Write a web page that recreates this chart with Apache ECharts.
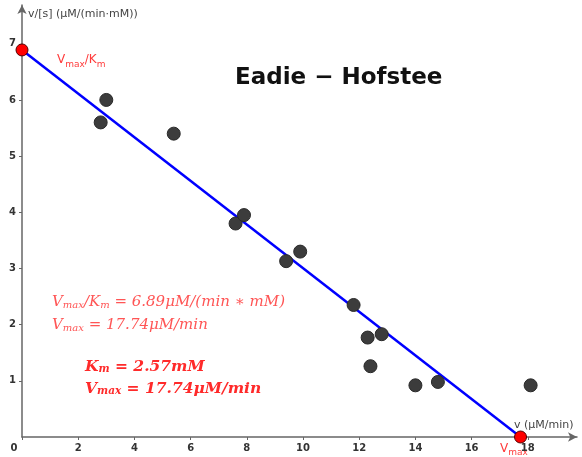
<!DOCTYPE html>
<html>
<head>
<meta charset="utf-8">
<script src="https://cdn.jsdelivr.net/npm/echarts@6/dist/echarts.min.js"></script>
<style>
  html, body { margin: 0; padding: 0; background: #fff; }
  #main { width: 582px; height: 457px; }
</style>
</head>
<body>
<div id="main"></div>
<script>
// measured points: x = v, y = v/[s]
var vValues = [2.8, 3.0, 5.4, 7.6, 7.9, 9.4, 9.9, 11.8, 12.3, 12.4, 12.8, 14.0, 14.8, 18.1];
var vOverS = [5.6, 6.0, 5.4, 3.8, 3.95, 3.13, 3.3, 2.35, 1.77, 1.26, 1.83, 0.92, 0.98, 0.92];

// fitted intercepts
var vmaxOverKm = 6.89;
var vmax = 17.74;

var xTicks = [0, 2, 4, 6, 8, 10, 12, 14, 16, 18];
var yTicks = [1, 2, 3, 4, 5, 6, 7];

var chart = echarts.init(document.getElementById('main'));

var points = vValues.map(function (v, i) { return [v, vOverS[i]]; });
var fitLine = [[0, vmaxOverKm], [vmax, 0]];

var red = '#ff3b3b';
var mathFont = '"DejaVu Serif", "Liberation Serif", serif';

var option = {
  backgroundColor: '#fff',
  animation: false,
  grid: { left: 22, right: 5, top: 5, bottom: 20 },
  xAxis: {
    type: 'value',
    min: 0,
    max: 19.75,
    interval: 2,
    axisLine: { lineStyle: { color: '#666', width: 1.5 }, symbol: ['none', 'arrow'], symbolSize: [7, 9] },
    axisTick: { show: true, length: 3, lineStyle: { color: '#666' } },
    splitLine: { show: false },
    axisLabel: {
      showMaxLabel: false,
      color: '#333',
      fontSize: 10,
      fontWeight: 'bold',
      fontFamily: '"DejaVu Sans", sans-serif',
      margin: 6,
      formatter: function (val) {
        if (xTicks.indexOf(val) < 0) return '';
        return val === 0 ? '{o|0}' : String(val);
      },
      rich: { o: { padding: [0, 16, 0, 0], fontSize: 10, fontWeight: 'bold', color: '#333' } }
    }
  },
  yAxis: {
    type: 'value',
    min: 0,
    max: 7.69,
    interval: 1,
    axisLine: { lineStyle: { color: '#666', width: 1.5 }, symbol: ['none', 'arrow'], symbolSize: [7, 9] },
    axisTick: { show: true, length: 3, lineStyle: { color: '#666' } },
    splitLine: { show: false },
    axisLabel: {
      showMinLabel: false,
      showMaxLabel: false,
      color: '#333',
      fontSize: 10,
      fontWeight: 'bold',
      fontFamily: '"DejaVu Sans", sans-serif',
      margin: 6,
      formatter: function (val) {
        return yTicks.indexOf(val) < 0 ? '' : String(val);
      }
    }
  },
  series: [
    {
      type: 'line',
      data: fitLine,
      symbol: 'none',
      lineStyle: { color: '#0000ff', width: 2.5 },
      z: 2
    },
    {
      type: 'scatter',
      data: points,
      symbolSize: 13,
      itemStyle: { color: '#3c3c3c', borderColor: '#2a2a2a', borderWidth: 1, opacity: 1 },
      z: 3
    },
    {
      type: 'scatter',
      data: [[0, vmaxOverKm], [vmax, 0]],
      symbolSize: 12,
      itemStyle: { color: '#ff0000', borderColor: '#550000', borderWidth: 1, opacity: 1 },
      z: 4
    }
  ],
  graphic: [
    {
      type: 'text', left: 28, top: 9,
      style: { text: 'v/[s] (μM/(min·mM))', fill: '#444', fontSize: 11, fontFamily: '"DejaVu Sans", sans-serif' }
    },
    {
      type: 'text', left: 514, top: 420,
      style: { text: 'v (μM/min)', fill: '#444', fontSize: 11, fontFamily: '"DejaVu Sans", sans-serif' }
    },
    {
      type: 'text', left: 235, top: 67,
      style: { text: 'Eadie − Hofstee', fill: '#111', fontSize: 23, fontWeight: 'bold', fontFamily: '"DejaVu Sans", sans-serif' }
    },
    {
      type: 'text', left: 57, top: 53,
      style: {
        text: '{a|V}{s|max}{a|/K}{s|m}',
        rich: {
          a: { fill: red, fontSize: 12, fontFamily: '"DejaVu Sans", sans-serif', verticalAlign: 'top', lineHeight: 14 },
          s: { fill: red, fontSize: 9, fontFamily: '"DejaVu Sans", sans-serif', padding: [7, 0, 0, 0], lineHeight: 14 }
        }
      }
    },
    {
      type: 'text', left: 500, top: 441,
      style: {
        text: '{a|V}{s|max}',
        rich: {
          a: { fill: red, fontSize: 12, fontFamily: '"DejaVu Sans", sans-serif', lineHeight: 14 },
          s: { fill: red, fontSize: 9, fontFamily: '"DejaVu Sans", sans-serif', padding: [7, 0, 0, 0], lineHeight: 14 }
        }
      }
    },
    {
      type: 'text', left: 52, top: 294,
      style: {
        text: '{a|V}{s|max}{a|/K}{s|m}{a| = 6.89μM/(min ∗ mM)}\n{a|V}{s|max}{a| = 17.74μM/min}',
        rich: {
          a: { fill: '#ff5555', fontSize: 15, fontStyle: 'italic', fontFamily: mathFont, lineHeight: 23 },
          s: { fill: '#ff5555', fontSize: 10, fontStyle: 'italic', fontFamily: mathFont, padding: [6, 0, 0, 0], lineHeight: 23 }
        }
      }
    },
    {
      type: 'text', left: 85, top: 358,
      style: {
        text: '{a|K}{s|m}{a| = 2.57mM}\n{a|V}{s|max}{a| = 17.74μM/min}',
        rich: {
          a: { fill: '#ff2a2a', fontSize: 15.5, fontStyle: 'italic', fontWeight: 'bold', fontFamily: mathFont, lineHeight: 22 },
          s: { fill: '#ff2a2a', fontSize: 10.5, fontStyle: 'italic', fontWeight: 'bold', fontFamily: mathFont, padding: [6, 0, 0, 0], lineHeight: 22 }
        }
      }
    }
  ]
};

chart.setOption(option);
</script>
</body>
</html>
